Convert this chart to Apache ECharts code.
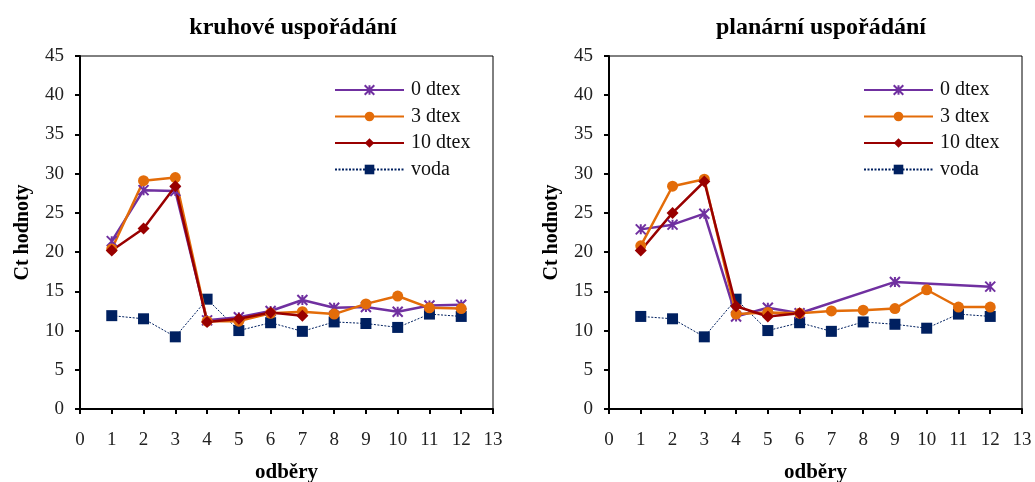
<!DOCTYPE html>
<html>
<head>
<meta charset="utf-8">
<script src="https://cdn.jsdelivr.net/npm/echarts@6/dist/echarts.min.js"></script>
<style>
  html, body { margin: 0; padding: 0; background: #fff; }
  #chart { width: 1035px; height: 482px; }
</style>
</head>
<body>
<div id="chart"></div>
<script>
// Sampling points (odběry 1–12)
const odbery = [1, 2, 3, 4, 5, 6, 7, 8, 9, 10, 11, 12];

// Ct values – circular arrangement (kruhové uspořádání)
const kruh0dtex  = [21.4, 27.9, 27.8, 11.3, 11.7, 12.5, 13.9, 12.9, 13.0, 12.4, 13.2, 13.3];
const kruh3dtex  = [20.4, 29.1, 29.5, 11.2, 11.2, 12.2, 12.4, 12.1, 13.4, 14.4, 12.9, 12.8];
const kruh10dtex = [20.2, 23.0, 28.4, 11.1, 11.5, 12.3, 11.9];
const kruhVoda   = [11.9, 11.5, 9.2, 14.0, 10.0, 11.0, 9.9, 11.1, 10.9, 10.4, 12.1, 11.8];

// Ct values – planar arrangement (planární uspořádání)
const plan0dtex  = [22.9, 23.5, 24.9, 11.8, 12.9, 12.2, null, null, 16.2, null, null, 15.6];
const plan3dtex  = [20.8, 28.4, 29.3, 12.1, 12.3, 12.2, 12.5, 12.6, 12.8, 15.2, 13.0, 13.0];
const plan10dtex = [20.2, 25.0, 29.0, 13.1, 11.8, 12.2];
const planVoda   = [11.8, 11.5, 9.2, 14.0, 10.0, 11.0, 9.9, 11.1, 10.8, 10.3, 12.1, 11.8];

const seriesNames = ['0 dtex', '3 dtex', '10 dtex', 'voda'];
const titles = ['kruhové uspořádání', 'planární uspořádání'];

const FONT = 'Liberation Serif';
const pairs = vals => vals.map((v, i) => [odbery[i], v]);

const styles = {
  '0 dtex':  { color: '#7030A0', symbol: 'path://M0,0L10,10M10,0L0,10M5,0L5,10', size: 10, width: 2.5, type: 'solid' },
  '3 dtex':  { color: '#E36C09', symbol: 'circle', size: 11, width: 2.5, type: 'solid' },
  '10 dtex': { color: '#990000', symbol: 'diamond', size: 12, width: 2.5, type: 'solid' },
  'voda':    { color: '#002060', symbol: 'rect', size: 11, width: 1, type: [2, 1.5] }
};

function makeSeries(name, vals, gi) {
  const s = styles[name];
  const isCross = name === '0 dtex';
  return {
    name: name,
    type: 'line',
    xAxisIndex: gi,
    yAxisIndex: gi,
    data: pairs(vals),
    connectNulls: true,
    symbol: s.symbol,
    symbolSize: s.size,
    showAllSymbol: true,
    lineStyle: { color: s.color, width: s.width, type: s.type },
    itemStyle: isCross
      ? { color: s.color, borderColor: s.color, borderWidth: 2 }
      : { color: s.color, borderColor: s.color, borderWidth: 0 },
    emphasis: { disabled: true },
    animation: false,
    z: name === 'voda' ? 1 : 2
  };
}

const grids = [
  { left: 80, right: 542, top: 56, bottom: 73 },
  { left: 609, right: 13, top: 56, bottom: 73 }
];

const option = {
  backgroundColor: '#ffffff',
  animation: false,
  title: titles.map((t, i) => ({
    text: t,
    left: i === 0 ? 288 : 816,
    top: 11,
    textAlign: 'center',
    textStyle: { fontFamily: FONT, fontSize: 24, fontWeight: 'bold', color: '#000' }
  })),
  legend: [0, 1].map(i => ({
    data: seriesNames,
    orient: 'vertical',
    left: i === 0 ? 334 : 863,
    top: 80,
    padding: 0,
    itemWidth: 69,
    itemHeight: 12,
    itemGap: 6.5,
    selectedMode: false,
    textStyle: { fontFamily: FONT, fontSize: 20, lineHeight: 20, color: '#111', padding: [0, 0, 0, 2] }
  })),
  grid: grids.map(g => Object.assign({
    show: true, borderColor: '#000', borderWidth: 1, backgroundColor: '#fff',
    outerBoundsMode: 'none'
  }, g)),
  xAxis: [0, 1].map(i => ({
    type: 'value',
    gridIndex: i,
    min: 0, max: 13, interval: 1,
    name: 'odběry',
    nameLocation: 'middle',
    nameGap: 53,
    nameTextStyle: { fontFamily: FONT, fontSize: 21, fontWeight: 'bold', color: '#000' },
    axisLine: { show: true, lineStyle: { color: '#000', width: 2 } },
    axisTick: { show: true, inside: false, length: 5, lineStyle: { color: '#000', width: 2 } },
    axisLabel: { fontFamily: FONT, fontSize: 19, color: '#222', margin: 22 },
    splitLine: { show: false }
  })),
  yAxis: [0, 1].map(i => ({
    type: 'value',
    gridIndex: i,
    min: 0, max: 45, interval: 5,
    name: 'Ct hodnoty',
    nameLocation: 'middle',
    nameGap: 47,
    nameTextStyle: { fontFamily: FONT, fontSize: 20, fontWeight: 'bold', color: '#000' },
    axisLine: { show: true, lineStyle: { color: '#000', width: 2 } },
    axisTick: { show: true, inside: false, length: 5, lineStyle: { color: '#000', width: 2 } },
    axisLabel: { fontFamily: FONT, fontSize: 19, color: '#222', margin: 16 },
    splitLine: { show: false }
  })),
  series: [
    makeSeries('voda', kruhVoda, 0),
    makeSeries('0 dtex', kruh0dtex, 0),
    makeSeries('3 dtex', kruh3dtex, 0),
    makeSeries('10 dtex', kruh10dtex, 0),
    makeSeries('voda', planVoda, 1),
    makeSeries('0 dtex', plan0dtex, 1),
    makeSeries('3 dtex', plan3dtex, 1),
    makeSeries('10 dtex', plan10dtex, 1)
  ]
};

const chart = echarts.init(document.getElementById('chart'), null, { renderer: 'canvas' });
chart.setOption(option);
</script>
</body>
</html>
